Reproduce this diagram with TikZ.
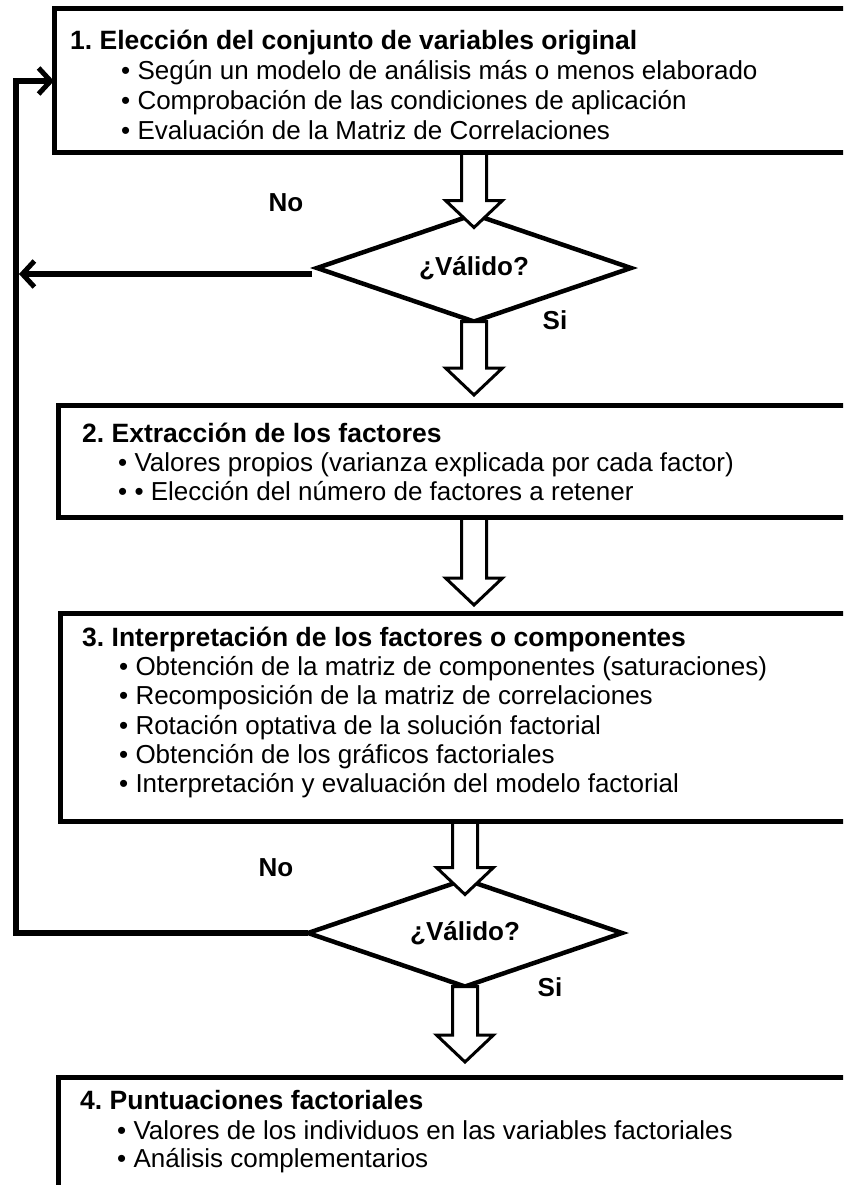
\documentclass[tikz,border=0pt]{standalone}
\usepackage{fontspec}
\setmainfont{Liberation Sans}
\usetikzlibrary{arrows.meta,shapes.geometric,calc}
\pgfdeclarelayer{back}
\pgfsetlayers{back,main}
\newcommand\harrow[2]{%
  \draw[blk] let \p1=(#1),\p2=(#2) in
   (\x2-12.5pt,\y1) -- (\x2-12.5pt,\y2+27pt) -- (\x2-28.5pt,\y2+27pt) -- (\x2,\y2)
   -- (\x2+28.5pt,\y2+27pt) -- (\x2+12.5pt,\y2+27pt) -- (\x2+12.5pt,\y1) -- cycle;}
\begin{document}
\frenchspacing
\begin{tikzpicture}[x=1pt,y=-1pt,
  box/.style={draw,line width=5pt,fill=white,rectangle,inner sep=0pt,outer sep=0pt,anchor=north west},
  ttl/.style={anchor=base west,inner sep=0pt,font=\fontsize{26.5}{30}\selectfont\bfseries},
  itm/.style={anchor=base west,inner sep=0pt,font=\fontsize{26}{30}\selectfont},
  lbl/.style={inner sep=0pt,font=\fontsize{26}{30}\selectfont\bfseries},
  dia/.style={diamond,draw,line width=4.5pt,fill=white,inner sep=0pt,outer sep=0pt,
    minimum width=314pt,minimum height=107pt,aspect=2.93,font=\fontsize{26}{30}\selectfont\bfseries},
  ret/.style={line width=5.5pt,line join=miter},
  barb/.style={-{Straight Barb[length=12pt,width=26pt,line width=5pt]}},
  blk/.style={draw=black,fill=white,line width=3pt,line join=miter}
]
\useasboundingbox (0,0) rectangle (843,1185);
\clip (0,0) rectangle (843,1185);

% boxes
\node[box,minimum width=794pt,minimum height=144pt] (b1) at (54,9) {};
\node[box,minimum width=790pt,minimum height=112pt] (b2) at (58,405) {};
\node[box,minimum width=788pt,minimum height=208pt] (b3) at (60,613) {};
\node[box,minimum width=790pt,minimum height=140pt] (b4) at (58,1077) {};

% box texts
\node[ttl] (t1) at (70,50) {1. Elección del conjunto de variables original};
\node[itm] (t1a) at (121,80) {• Según un modelo de análisis más o menos elaborado};
\node[itm] (t1b) at (121,110) {• Comprobación de las condiciones de aplicación};
\node[itm] (t1c) at (121,140) {• Evaluación de la Matriz de Correlaciones};

\node[ttl] (t2) at (82,442) {2. Extracción de los factores};
\node[itm] (t2a) at (118,471) {• Valores propios (varianza explicada por cada factor)};
\node[itm] (t2b) at (118,500) {• • Elección del número de factores a retener};

\node[ttl] (t3) at (82,646) {3. Interpretación de los factores o componentes};
\node[itm] (t3a) at (119,675) {• Obtención de la matriz de componentes (saturaciones)};
\node[itm] (t3b) at (119,704) {• Recomposición de la matriz de correlaciones};
\node[itm] (t3c) at (119,734) {• Rotación optativa de la solución factorial};
\node[itm] (t3d) at (119,763) {• Obtención de los gráficos factoriales};
\node[itm] (t3e) at (119,792) {• Interpretación y evaluación del modelo factorial};

\node[ttl] (t4) at (80,1109) {4. Puntuaciones factoriales};
\node[itm] (t4a) at (117,1139) {• Valores de los individuos en las variables factoriales};
\node[itm] (t4b) at (117,1167) {• Análisis complementarios};

% labels
\node[lbl] (no1) at (286,203) {No};
\node[lbl] (si1) at (555,320) {Si};
\node[lbl] (no2) at (276,868) {No};
\node[lbl] (si2) at (550,987) {Si};

\begin{pgfonlayer}{back}
\node[dia] (d1) at (474,268) {¿Válido?};
\node[dia] (d2) at (465,933) {¿Válido?};
\harrow{d1.south}{$(b2.north -| d1.south)+(0,-10)$}
\harrow{d2.south}{$(b4.north -| d2.south)+(0,-15)$}
\harrow{d1.north |- b1.south}{$(d1.north)+(0,13)$}
\harrow{d1.north |- b2.south}{$(b3.north -| d1.north)+(0,-8)$}
\harrow{d2.north |- b3.south}{$(d2.north)+(0,15)$}
\end{pgfonlayer}

% return connectors
\coordinate (rx) at (16,0);
\draw[ret,barb] ($(d1.west)+(-5,6)$) -- ($(rx |- d1.west)+(3,6)$);
\draw[ret,barb] (d2.west) -| (rx |- b1.west) -- (b1.west);
\end{tikzpicture}
\end{document}
